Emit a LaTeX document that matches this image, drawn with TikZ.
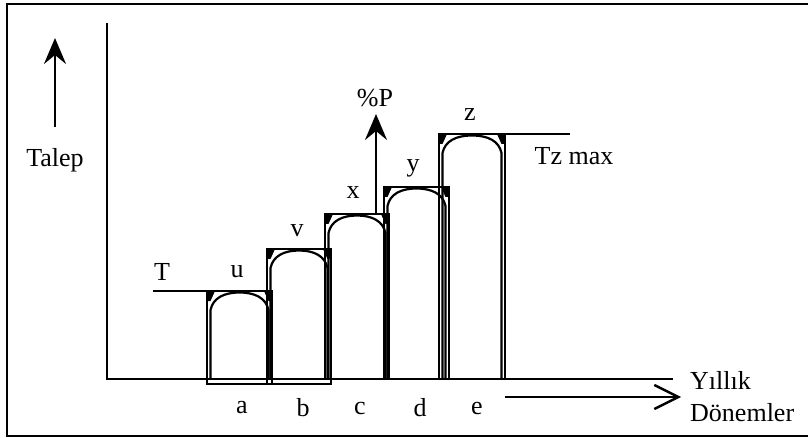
\documentclass[tikz,border=0pt]{standalone}
\usepackage{fontspec}
\setmainfont{Liberation Serif}
\usetikzlibrary{arrows.meta}
\begin{document}
\begin{tikzpicture}[x=1pt,y=-1pt,
  lbl/.style={inner sep=0pt,font=\fontsize{26}{30}\selectfont},
  axisline/.style={line width=2.4pt},
  barline/.style={line width=2.2pt},
  uparrow/.style={line width=2.4pt,-{Stealth[length=26pt,width=22pt,inset=9pt]}},
  barbarrow/.style={line width=2.4pt,-{Straight Barb[length=24pt,width=24pt,line width=2.4pt]}}]
\useasboundingbox (0,0) rectangle (808,438);
% frame
\draw[line width=2.6pt] (808,4) -- (7,4) -- (7,436) -- (808,436);
% axes
\coordinate (O) at (107,379);
\coordinate (ytop) at (107,23);
\coordinate (xend) at (673,379);
\draw[axisline] (ytop) -- (O) -- (xend);
% Talep arrow
\coordinate (tb) at (55,127);
\coordinate (tt) at (55,38);
\draw[uparrow] (tb) -- (tt);
\node[lbl] (talep) at (55,160) {Talep};
% bars: L R T B
\foreach \L/\R/\T/\B/\nm in {207/272/291/384/u,267/331/249/384/v,325/389/214/379/x,384/449/187/379/y,439/505/134/379/z}{
  \draw[barline] (\L,\B) rectangle (\R,\T);
  \draw[barline] (\L+3.5,379) -- (\L+3.5,\T+19)
     .. controls (\L+6,\T+7) and (\L+17,\T+1.5) .. ({(\L+\R)/2},\T+1.5)
     .. controls (\R-17,\T+1.5) and (\R-6,\T+7) .. (\R-3.5,\T+19) -- (\R-3.5,379);
  \fill (\L,\T) -- (\L+8,\T) -- (\L+3.5,\T+10) -- (\L,\T+10) -- cycle;
  \fill (\R,\T) -- (\R-8,\T) -- (\R-3.5,\T+10) -- (\R,\T+10) -- cycle;
}
% T line and Tz max line
\coordinate (tl) at (153,291);
\coordinate (ul) at (207,291);
\draw[axisline] (tl) -- (ul);
\coordinate (zl) at (505,134);
\coordinate (zr) at (570,134);
\draw[axisline] (zl) -- (zr);
\node[lbl] (T) at (162,272) {T};
\node[lbl] (tz) at (574,156) {Tz max};
% bar labels
\node[lbl] (lu) at (237,272) {u};
\node[lbl] (lv) at (297,231) {v};
\node[lbl] (lx) at (353,193) {x};
\node[lbl] (ly) at (413,168) {y};
\node[lbl] (lz) at (470,115) {z};
% %P arrow
\coordinate (pb) at (376,214);
\coordinate (pt) at (376,114);
\draw[uparrow] (pb) -- (pt);
\node[lbl] (pp) at (375,98) {\%P};
% period labels
\node[lbl] (a) at (242,408) {a};
\node[lbl] (b) at (303,408) {b};
\node[lbl] (c) at (360,408) {c};
\node[lbl] (d) at (420,408) {d};
\node[lbl] (e) at (477,408) {e};
% period arrow
\coordinate (pa1) at (505,397);
\coordinate (pa2) at (681,397);
\draw[barbarrow] (pa1) -- (pa2);
\node[lbl,anchor=west] (yil) at (690,380) {Yıllık};
\node[lbl,anchor=west] (don) at (690,413) {Dönemler};
\end{tikzpicture}
\end{document}
